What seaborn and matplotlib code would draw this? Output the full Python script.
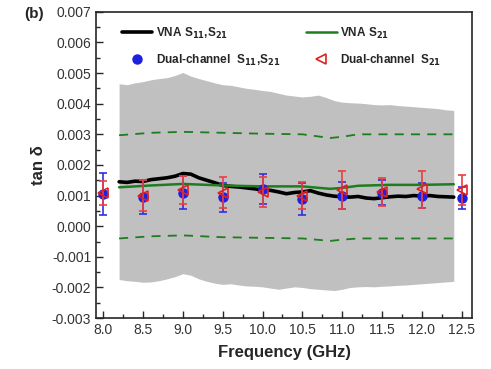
import numpy as np
import pandas as pd
import matplotlib
matplotlib.use('Agg')
import matplotlib.pyplot as plt
import seaborn as sns
from matplotlib.ticker import MultipleLocator

# VNA sweep (GHz) and values in units of 1e-3
freq = np.linspace(8.2, 12.4, 43)
vna_s11s21 = [1.45, 1.43, 1.47, 1.46, 1.52, 1.55, 1.58, 1.63, 1.72, 1.70, 1.58,
              1.50, 1.42, 1.33, 1.30, 1.28, 1.25, 1.22, 1.18, 1.17, 1.12, 1.06,
              1.10, 1.12, 1.16, 1.08, 1.02, 0.98, 0.96, 0.95, 0.97, 0.92, 0.90,
              0.93, 0.96, 0.98, 0.97, 1.00, 0.98, 1.00, 0.97, 0.96, 0.95]
band_upper = [4.65, 4.62, 4.68, 4.72, 4.78, 4.82, 4.85, 4.92, 5.02, 4.90, 4.82,
              4.75, 4.68, 4.62, 4.60, 4.55, 4.50, 4.47, 4.43, 4.40, 4.34, 4.28,
              4.25, 4.22, 4.24, 4.28, 4.20, 4.10, 4.05, 4.03, 4.02, 4.00, 3.97,
              3.96, 3.97, 3.94, 3.92, 3.90, 3.88, 3.86, 3.84, 3.80, 3.78]
band_lower = [-1.74, -1.78, -1.80, -1.83, -1.82, -1.78, -1.72, -1.65, -1.55, -1.60,
              -1.72, -1.80, -1.86, -1.90, -1.88, -1.92, -1.95, -1.96, -1.98, -2.02,
              -2.06, -2.02, -1.98, -2.00, -2.04, -2.06, -2.08, -2.10, -2.06, -2.00,
              -1.98, -1.97, -1.98, -1.96, -1.95, -1.93, -1.92, -1.90, -1.88, -1.86,
              -1.84, -1.82, -1.80]

# VNA S21 (green) with its uncertainty bounds
freq_s21 = [8.2, 8.6, 9.0, 9.5, 10.0, 10.5, 10.85, 11.0, 11.2, 11.6, 12.0, 12.4]
vna_s21 = [1.27, 1.33, 1.38, 1.33, 1.30, 1.30, 1.22, 1.25, 1.32, 1.35, 1.35, 1.37]
s21_upper = [2.97, 3.05, 3.08, 3.05, 3.02, 3.00, 2.88, 2.92, 3.00, 3.00, 3.00, 3.00]
s21_lower = [-0.40, -0.33, -0.30, -0.36, -0.38, -0.40, -0.48, -0.44, -0.40, -0.40, -0.40, -0.40]

# dual-channel measurements
freq_dc = [8.0, 8.5, 9.0, 9.5, 10.0, 10.5, 11.0, 11.5, 12.0, 12.5]
dc_s11s21 = [1.05, 0.96, 1.10, 0.94, 1.22, 0.90, 1.00, 1.10, 1.00, 0.92]
dc_s11s21_err = [0.70, 0.55, 0.55, 0.48, 0.50, 0.52, 0.45, 0.40, 0.40, 0.35]
dc_s21 = [1.08, 1.00, 1.18, 1.10, 1.12, 1.00, 1.18, 1.12, 1.20, 1.18]
dc_s21_err = [0.40, 0.50, 0.45, 0.52, 0.48, 0.45, 0.62, 0.45, 0.60, 0.50]

k = 1e-3
vna = pd.DataFrame({'f': freq, 'v': np.array(vna_s11s21) * k})
s21 = pd.DataFrame({'f': freq_s21, 'v': np.array(vna_s21) * k,
                    'hi': np.array(s21_upper) * k, 'lo': np.array(s21_lower) * k})

sns.set_style('ticks')
plt.rcParams['font.family'] = ['Liberation Sans', 'DejaVu Sans']

fig = plt.figure(figsize=(4.91, 3.69), dpi=100)
ax = fig.add_axes([0.1955, 0.138, 0.766, 0.83])

ax.fill_between(freq, np.array(band_lower) * k, np.array(band_upper) * k,
                color='#c0c0c0', lw=0, zorder=1)
sns.lineplot(data=s21, x='f', y='hi', ax=ax, color='#1e7d1e', lw=1.3,
             linestyle=(0, (5, 4)), zorder=2)
sns.lineplot(data=s21, x='f', y='lo', ax=ax, color='#1e7d1e', lw=1.3,
             linestyle=(0, (5, 4)), zorder=2)
sns.lineplot(data=vna, x='f', y='v', ax=ax, color='black', lw=2.6, zorder=3,
             label=r'VNA S$_{\mathbf{11}}$,S$_{\mathbf{21}}$')
sns.lineplot(data=s21, x='f', y='v', ax=ax, color='#1e7d1e', lw=1.8, zorder=3,
             label=r'VNA S$_{\mathbf{21}}$')

ax.errorbar(freq_dc, np.array(dc_s11s21) * k, yerr=np.array(dc_s11s21_err) * k,
            fmt='o', color='#1f1fe0', ms=6.5, ecolor='#3030e0', elinewidth=1.2,
            capsize=3, capthick=1.2, zorder=4,
            label=r'Dual-channel  S$_{\mathbf{11}}$,S$_{\mathbf{21}}$')
ax.errorbar(freq_dc, np.array(dc_s21) * k, yerr=np.array(dc_s21_err) * k,
            fmt='<', mfc='none', mec='#e02020', mew=1.2, ms=6.5, ecolor='#e84040',
            elinewidth=1.2, capsize=3, capthick=1.2, zorder=5,
            label=r'Dual-channel  S$_{\mathbf{21}}$')

ax.set_xlim(7.91, 12.63)
ax.set_ylim(-0.003, 0.007)
ax.xaxis.set_major_locator(MultipleLocator(0.5))
ax.xaxis.set_minor_locator(MultipleLocator(0.25))
ax.yaxis.set_major_locator(MultipleLocator(0.001))
ax.yaxis.set_minor_locator(MultipleLocator(0.0005))
ax.yaxis.set_major_formatter(plt.FuncFormatter(lambda v, p: f'{v:.3f}'))
ax.tick_params(which='both', direction='in', top=False, right=False,
               labelsize=10, labelcolor='#333333')
ax.tick_params(which='major', length=5, width=1)
ax.tick_params(which='minor', length=3, width=1)
for s in ax.spines.values():
    s.set_linewidth(1.2)
    s.set_visible(True)

ax.set_xlabel('Frequency (GHz)', fontsize=12, fontweight='bold', labelpad=6)
ax.set_ylabel('tan δ', fontsize=12, fontweight='bold', labelpad=4)
fig.text(0.05, 0.962, '(b)', fontsize=11, fontweight='bold', va='center')

h, l = ax.get_legend_handles_labels()
# errorbar containers -> show only their markers in the legend
h = [hh[0] if isinstance(hh, tuple) or hasattr(hh, 'lines') else hh for hh in h]
order = [0, 2, 1, 3]
ax.legend([h[i] for i in order], [l[i] for i in order], ncol=2, frameon=False,
          loc='upper left', bbox_to_anchor=(0.04, 0.99),
          prop={'weight': 'bold', 'size': 8.5},
          handlelength=2.6, handletextpad=0.3, columnspacing=2.2, labelspacing=1.0)

fig.savefig('out.png', dpi=100)
